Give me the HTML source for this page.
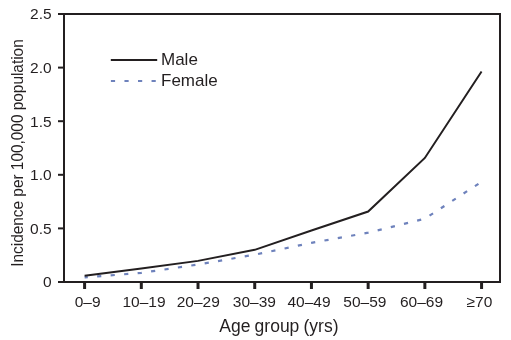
<!DOCTYPE html>
<html><head><meta charset="utf-8"><style>
html,body{margin:0;padding:0;background:#fff;width:511px;height:340px;overflow:hidden}
svg{display:block;will-change:transform}
.t{font-family:"Liberation Sans",sans-serif;font-size:15.5px;fill:#231f20}
.l{font-family:"Liberation Sans",sans-serif;font-size:17px;fill:#231f20}
</style></head><body>
<svg width="511" height="340" viewBox="0 0 511 340">
<rect x="64" y="14" width="436" height="268" fill="none" stroke="#231f20" stroke-width="2"/>
<line x1="58" y1="282.00" x2="64" y2="282.00" stroke="#231f20" stroke-width="2"/>
<text transform="translate(51.6,287.40) scale(1,1.0)" text-anchor="end" class="t">0</text>
<line x1="58" y1="228.40" x2="64" y2="228.40" stroke="#231f20" stroke-width="2"/>
<text transform="translate(51.6,233.80) scale(1,1.0)" text-anchor="end" class="t">0.5</text>
<line x1="58" y1="174.80" x2="64" y2="174.80" stroke="#231f20" stroke-width="2"/>
<text transform="translate(51.6,180.20) scale(1,1.0)" text-anchor="end" class="t">1.0</text>
<line x1="58" y1="121.20" x2="64" y2="121.20" stroke="#231f20" stroke-width="2"/>
<text transform="translate(51.6,126.60) scale(1,1.0)" text-anchor="end" class="t">1.5</text>
<line x1="58" y1="67.60" x2="64" y2="67.60" stroke="#231f20" stroke-width="2"/>
<text transform="translate(51.6,73.00) scale(1,1.0)" text-anchor="end" class="t">2.0</text>
<line x1="58" y1="14.00" x2="64" y2="14.00" stroke="#231f20" stroke-width="2"/>
<text transform="translate(51.6,19.40) scale(1,1.0)" text-anchor="end" class="t">2.5</text>
<line x1="84.60" y1="282" x2="84.60" y2="289" stroke="#231f20" stroke-width="3"/>
<text transform="translate(87.60,307) scale(1,1.0)" text-anchor="middle" class="t">0–9</text>
<line x1="141.31" y1="282" x2="141.31" y2="289" stroke="#231f20" stroke-width="3"/>
<text transform="translate(144.00,307) scale(1,1.0)" text-anchor="middle" class="t">10–19</text>
<line x1="198.02" y1="282" x2="198.02" y2="289" stroke="#231f20" stroke-width="3"/>
<text transform="translate(198.20,307) scale(1,1.0)" text-anchor="middle" class="t">20–29</text>
<line x1="254.73" y1="282" x2="254.73" y2="289" stroke="#231f20" stroke-width="3"/>
<text transform="translate(254.40,307) scale(1,1.0)" text-anchor="middle" class="t">30–39</text>
<line x1="311.44" y1="282" x2="311.44" y2="289" stroke="#231f20" stroke-width="3"/>
<text transform="translate(309.00,307) scale(1,1.0)" text-anchor="middle" class="t">40–49</text>
<line x1="368.15" y1="282" x2="368.15" y2="289" stroke="#231f20" stroke-width="3"/>
<text transform="translate(364.90,307) scale(1,1.0)" text-anchor="middle" class="t">50–59</text>
<line x1="424.86" y1="282" x2="424.86" y2="289" stroke="#231f20" stroke-width="3"/>
<text transform="translate(421.50,307) scale(1,1.0)" text-anchor="middle" class="t">60–69</text>
<line x1="481.57" y1="282" x2="481.57" y2="289" stroke="#231f20" stroke-width="3"/>
<text transform="translate(479.40,307) scale(1,1.0)" text-anchor="middle" class="t">≥70</text>
<polyline points="84.60,277.39 141.31,272.89 198.02,264.53 254.73,254.66 311.44,242.87 368.15,232.69 424.86,218.75 481.57,181.77" fill="none" stroke="#6e82bc" stroke-width="2.2" stroke-dasharray="4.2 9.35" stroke-dashoffset="1"/>
<polyline points="84.60,275.78 141.31,268.39 198.02,260.88 254.73,249.84 311.44,230.54 368.15,211.57 424.86,157.97 481.57,71.57" fill="none" stroke="#231f20" stroke-width="2" stroke-linejoin="miter"/>
<line x1="110.8" y1="60" x2="157.2" y2="60" stroke="#231f20" stroke-width="2"/>
<line x1="110.9" y1="81" x2="156.5" y2="81" stroke="#6e82bc" stroke-width="2.2" stroke-dasharray="4.2 9.35"/>
<text x="161" y="65" class="l">Male</text>
<text x="161" y="86.3" class="l">Female</text>
<text x="219.3" y="332" class="l" style="font-size:17.5px;word-spacing:-0.7px">Age group (yrs)</text>
<text transform="translate(23.2,266.8) rotate(-90) scale(1,1.1)" x="0" y="0" class="t" style="font-size:15.4px">Incidence per 100,000 population</text>
</svg>
</body></html>
